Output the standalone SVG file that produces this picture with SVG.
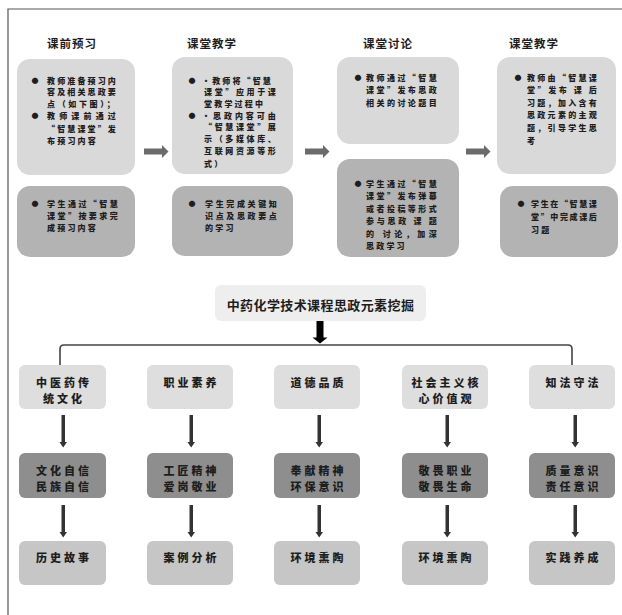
<svg xmlns="http://www.w3.org/2000/svg" width="622" height="615" viewBox="0 0 622 615">
<defs>
<style>
text{font-family:"Noto Sans CJK SC","Noto Sans CJK TC",sans-serif;font-weight:700;fill:#1e1e1e;}
.h{font-size:11.5px;letter-spacing:1px;text-anchor:middle;dominant-baseline:central;}
.t{font-size:8px;letter-spacing:2.2px;dominant-baseline:central;font-weight:900;}
.b{font-size:7px;dominant-baseline:central;text-anchor:middle;}
.n{font-size:11px;letter-spacing:3px;text-anchor:middle;dominant-baseline:central;font-weight:900;}
.light{fill:#d9d9d9;}
.dark{fill:#b3b3b3;}
.r1{fill:#dedede;}
.r2{fill:#8e8e8e;}
.r3{fill:#c6c6c6;}
.ga{fill:#6b6b6b;}
</style>
</defs>
<rect width="622" height="615" fill="#ffffff"/>
<g id="frame" fill="none" stroke="#555" stroke-width="1.2">
<path d="M8,615 L8,9 L622,9"/>
</g>

<g id="headers">
<text class="h" x="72" y="43">课前预习</text>
<text class="h" x="212" y="43">课堂教学</text>
<text class="h" x="388" y="43">课堂讨论</text>
<text class="h" x="534" y="43">课堂教学</text>
</g>

<g id="pre1">
<rect class="light" x="17" y="59" width="118" height="116" rx="13"/>
<text class="b" x="35" y="80">●</text>
<text class="t" x="47" y="80" textLength="71" lengthAdjust="spacing">教师准备预习内</text>
<text class="t" x="47" y="91.7" textLength="71" lengthAdjust="spacing">容及相关思政要</text>
<text class="t" x="47" y="103.3" textLength="70" lengthAdjust="spacing">点（如下图）；</text>
<text class="b" x="35" y="115">●</text>
<text class="t" x="47" y="115" textLength="71" lengthAdjust="spacing">教师课前通过</text>
<text class="t" x="47" y="128" textLength="71" lengthAdjust="spacing">“智慧课堂”发</text>
<text class="t" x="47" y="140">布预习内容</text>
</g>
<g id="pre2">
<rect class="dark" x="17" y="186" width="118" height="71" rx="13"/>
<text class="b" x="35" y="203">●</text>
<text class="t" x="47" y="203" textLength="73" lengthAdjust="spacing">学生通过“智慧</text>
<text class="t" x="47" y="215" textLength="73" lengthAdjust="spacing">课堂”按要求完</text>
<text class="t" x="47" y="227">成预习内容</text>
</g>

<g id="cls1">
<rect class="light" x="172" y="57" width="121" height="117" rx="13"/>
<text class="b" x="192" y="80">●</text>
<text class="t" x="202" y="80" textLength="71" lengthAdjust="spacing">·教师将“智慧</text>
<text class="t" x="204" y="91.7" textLength="74" lengthAdjust="spacing">课堂”应用于课</text>
<text class="t" x="204" y="103.3">堂教学过程中</text>
<text class="b" x="192" y="115">●</text>
<text class="t" x="202" y="115" textLength="76" lengthAdjust="spacing">·思政内容可由</text>
<text class="t" x="204" y="126.7" textLength="74" lengthAdjust="spacing">“智慧课堂”展</text>
<text class="t" x="204" y="138.3" textLength="74" lengthAdjust="spacing">示（多媒体库、</text>
<text class="t" x="204" y="150" textLength="74" lengthAdjust="spacing">互联网资源等形</text>
<text class="t" x="204" y="163.3">式）</text>
</g>
<g id="cls2">
<rect class="dark" x="172" y="186" width="121" height="70" rx="13"/>
<text class="b" x="192" y="203">●</text>
<text class="t" x="205" y="203" textLength="74" lengthAdjust="spacing">学生完成关键知</text>
<text class="t" x="205" y="215" textLength="74" lengthAdjust="spacing">识点及思政要点</text>
<text class="t" x="205" y="227">的学习</text>
</g>

<g id="dis1">
<rect class="light" x="337" y="57" width="122" height="87" rx="13"/>
<text class="b" x="358" y="77">●</text>
<text class="t" x="366" y="77" textLength="73" lengthAdjust="spacing">教师通过“智慧</text>
<text class="t" x="366" y="89.5" textLength="73" lengthAdjust="spacing">课堂”发布思政</text>
<text class="t" x="366" y="102" textLength="73" lengthAdjust="spacing">相关的讨论题目</text>
</g>
<g id="dis2">
<rect class="dark" x="337" y="159" width="122" height="98" rx="13"/>
<text class="b" x="358" y="183">●</text>
<text class="t" x="366" y="183" textLength="73" lengthAdjust="spacing">学生通过“智慧</text>
<text class="t" x="366" y="195.5" textLength="73" lengthAdjust="spacing">课堂”发布弹幕</text>
<text class="t" x="366" y="208" textLength="73" lengthAdjust="spacing">或者投稿等形式</text>
<text class="t" x="366" y="220.5" textLength="73" lengthAdjust="spacing">参与思政 课 题</text>
<text class="t" x="366" y="233" textLength="73" lengthAdjust="spacing">的 讨论，加深</text>
<text class="t" x="366" y="245.5">思政学习</text>
</g>

<g id="post1">
<rect class="light" x="497" y="57" width="119" height="117" rx="13"/>
<text class="b" x="518" y="77">●</text>
<text class="t" x="527" y="77" textLength="72" lengthAdjust="spacing">教师由“智慧课</text>
<text class="t" x="527" y="89.6" textLength="72" lengthAdjust="spacing">堂”发布 课 后</text>
<text class="t" x="527" y="102.2" textLength="72" lengthAdjust="spacing">习题，加入含有</text>
<text class="t" x="527" y="114.8" textLength="72" lengthAdjust="spacing">思政元素的主观</text>
<text class="t" x="527" y="127.4" textLength="72" lengthAdjust="spacing">题，引导学生思</text>
<text class="t" x="527" y="140">考</text>
</g>
<g id="post2">
<rect class="dark" x="500" y="186" width="118" height="71" rx="13"/>
<text class="b" x="521" y="203">●</text>
<text class="t" x="531" y="203" textLength="68" lengthAdjust="spacing">学生在“智慧课</text>
<text class="t" x="531" y="216" textLength="68" lengthAdjust="spacing">堂”中完成课后</text>
<text class="t" x="531" y="229">习题</text>
</g>

<g id="title">
<rect x="215" y="285" width="211" height="36" rx="6" fill="#eeeeee"/>
<text x="320.5" y="304" font-size="13" letter-spacing="0.4" text-anchor="middle" dominant-baseline="central" font-weight="900">中药化学技术课程思政元素挖掘</text>
</g>

<g id="row1">
<g id="n11"><rect class="r1" x="19" y="365" width="87" height="44" rx="6"/><text class="n" x="64" y="382">中医药传</text><text class="n" x="64" y="398">统文化</text></g>
<g id="n12"><rect class="r1" x="147" y="365" width="86" height="44" rx="6"/><text class="n" x="191.5" y="382">职业素养</text></g>
<g id="n13"><rect class="r1" x="274" y="365" width="86" height="44" rx="6"/><text class="n" x="318.5" y="382">道德品质</text></g>
<g id="n14"><rect class="r1" x="402" y="365" width="86" height="44" rx="6"/><text class="n" x="446.5" y="382">社会主义核</text><text class="n" x="446.5" y="398">心价值观</text></g>
<g id="n15"><rect class="r1" x="529" y="365" width="86" height="44" rx="6"/><text class="n" x="573.5" y="382">知法守法</text></g>
</g>
<g id="row2">
<g id="n21"><rect class="r2" x="19" y="453" width="87" height="45" rx="6"/><text class="n" x="64" y="470">文化自信</text><text class="n" x="64" y="486">民族自信</text></g>
<g id="n22"><rect class="r2" x="147" y="453" width="86" height="45" rx="6"/><text class="n" x="191.5" y="470">工匠精神</text><text class="n" x="191.5" y="486">爱岗敬业</text></g>
<g id="n23"><rect class="r2" x="274" y="453" width="86" height="45" rx="6"/><text class="n" x="318.5" y="470">奉献精神</text><text class="n" x="318.5" y="486">环保意识</text></g>
<g id="n24"><rect class="r2" x="402" y="453" width="86" height="45" rx="6"/><text class="n" x="446.5" y="470">敬畏职业</text><text class="n" x="446.5" y="486">敬畏生命</text></g>
<g id="n25"><rect class="r2" x="529" y="453" width="86" height="45" rx="6"/><text class="n" x="573.5" y="470">质量意识</text><text class="n" x="573.5" y="486">责任意识</text></g>
</g>
<g id="row3">
<g id="n31"><rect class="r3" x="19" y="541" width="87" height="44" rx="6"/><text class="n" x="64" y="557">历史故事</text></g>
<g id="n32"><rect class="r3" x="147" y="541" width="86" height="44" rx="6"/><text class="n" x="191.5" y="557">案例分析</text></g>
<g id="n33"><rect class="r3" x="274" y="541" width="86" height="44" rx="6"/><text class="n" x="318.5" y="557">环境熏陶</text></g>
<g id="n34"><rect class="r3" x="402" y="541" width="86" height="44" rx="6"/><text class="n" x="446.5" y="557">环境熏陶</text></g>
<g id="n35"><rect class="r3" x="529" y="541" width="86" height="44" rx="6"/><text class="n" x="573.5" y="557">实践养成</text></g>
</g>

<g id="connectors">
<polygon class="ga" points="144,148.5 162,148.5 162,145 168.5,151.5 162,158 162,154.5 144,154.5"/>
<polygon class="ga" points="305,148.5 323,148.5 323,145 329.5,151.5 323,158 323,154.5 305,154.5"/>
<polygon class="ga" points="466,148.5 484,148.5 484,145 490.5,151.5 484,158 484,154.5 466,154.5"/>
<polygon fill="#000" points="316.5,321 323.5,321 323.5,337.5 327.5,337.5 320,343.5 312.5,337.5 316.5,337.5"/>
<path d="M60,365 L60,349 Q60,345 64,345 L568,345 Q572,345 572,349 L572,365" fill="none" stroke="#444" stroke-width="1.6"/>
<g fill="#333">
<polygon points="61.5,415 65,415 65,442 67,442 63.2,447.5 59.5,442 61.5,442"/>
<polygon points="189.5,415 193,415 193,442 195,442 191.2,447.5 187.5,442 189.5,442"/>
<polygon points="317.5,415 321,415 321,442 323,442 319.2,447.5 315.5,442 317.5,442"/>
<polygon points="445.5,415 449,415 449,442 451,442 447.2,447.5 443.5,442 445.5,442"/>
<polygon points="573.5,415 577,415 577,442 579,442 575.2,447.5 571.5,442 573.5,442"/>
<polygon points="61.5,505 65,505 65,532 67,532 63.2,537.5 59.5,532 61.5,532"/>
<polygon points="189.5,505 193,505 193,532 195,532 191.2,537.5 187.5,532 189.5,532"/>
<polygon points="317.5,505 321,505 321,532 323,532 319.2,537.5 315.5,532 317.5,532"/>
<polygon points="445.5,505 449,505 449,532 451,532 447.2,537.5 443.5,532 445.5,532"/>
<polygon points="573.5,505 577,505 577,532 579,532 575.2,537.5 571.5,532 573.5,532"/>
</g>
</g>
</svg>
